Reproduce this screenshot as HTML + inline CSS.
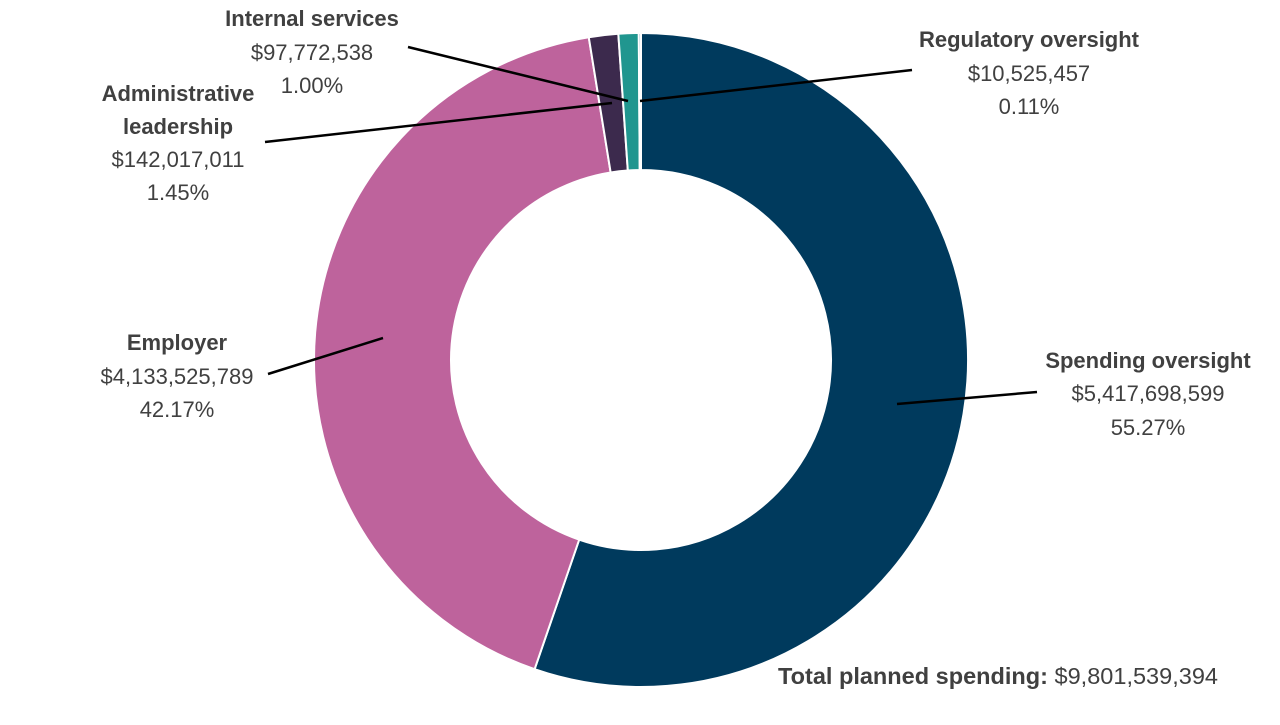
<!DOCTYPE html>
<html><head><meta charset="utf-8"><style>
body{margin:0;background:#fff;width:1280px;height:720px;overflow:hidden}
svg text{font-family:"Liberation Sans",sans-serif;font-size:22px;fill:#404040}
.b{font-weight:bold}
</style></head><body>
<svg width="1280" height="720">
<g id="slices"></g>
<g stroke="#000" stroke-width="2.5" fill="none">
<line x1="897" y1="404" x2="1037" y2="392"/>
<line x1="383" y1="338" x2="268" y2="374"/>
<line x1="612" y1="103" x2="265" y2="142"/>
<line x1="408" y1="47" x2="628" y2="101"/>
<line x1="640" y1="101" x2="912" y2="70"/>
</g>
<g text-anchor="middle">
<g><text x="1148" y="368" class="b">Spending oversight</text><text x="1148" y="401">$5,417,698,599</text><text x="1148" y="435">55.27%</text></g>
<g><text x="177" y="350" class="b">Employer</text><text x="177" y="384">$4,133,525,789</text><text x="177" y="417">42.17%</text></g>
<g><text x="178" y="101" class="b">Administrative</text><text x="178" y="134" class="b">leadership</text><text x="178" y="167">$142,017,011</text><text x="178" y="200">1.45%</text></g>
<g><text x="312" y="26" class="b">Internal services</text><text x="312" y="60">$97,772,538</text><text x="312" y="93">1.00%</text></g>
<g><text x="1029" y="47" class="b">Regulatory oversight</text><text x="1029" y="81">$10,525,457</text><text x="1029" y="114">0.11%</text></g>
</g>
<text x="778" y="684" style="font-size:23px" textLength="440" lengthAdjust="spacingAndGlyphs"><tspan font-weight="bold">Total planned spending:</tspan> $9,801,539,394</text>
</svg>
<script>
const categories=["Spending oversight","Employer","Administrative leadership","Internal services","Regulatory oversight"];
const values=[5417698599,4133525789,142017011,97772538,10525457];
const colors=["#003a5d","#be639c","#3c2a4d","#20968f","#1f5f8b"];
const cx=641,cy=360,R=327,r=190;
const total=values.reduce((a,b)=>a+b,0);
const g=document.getElementById('slices');
let a0=0;
function pt(a,rad){return [cx+rad*Math.sin(a),cy-rad*Math.cos(a)];}
values.forEach((v,i)=>{
 const a1=a0+v/total*2*Math.PI;
 const lg=(a1-a0)>Math.PI?1:0;
 const p1=pt(a0,R),p2=pt(a1,R),p3=pt(a1,r),p4=pt(a0,r);
 const p=document.createElementNS('http://www.w3.org/2000/svg','path');
 p.setAttribute('d',`M${p1}A${R},${R} 0 ${lg} 1 ${p2}L${p3}A${r},${r} 0 ${lg} 0 ${p4}Z`);
 p.setAttribute('fill',colors[i]);
 p.setAttribute('stroke','#fff');
 p.setAttribute('stroke-width','2');
 
 
 g.appendChild(p);
 a0=a1;
});
</script>
</body></html>
